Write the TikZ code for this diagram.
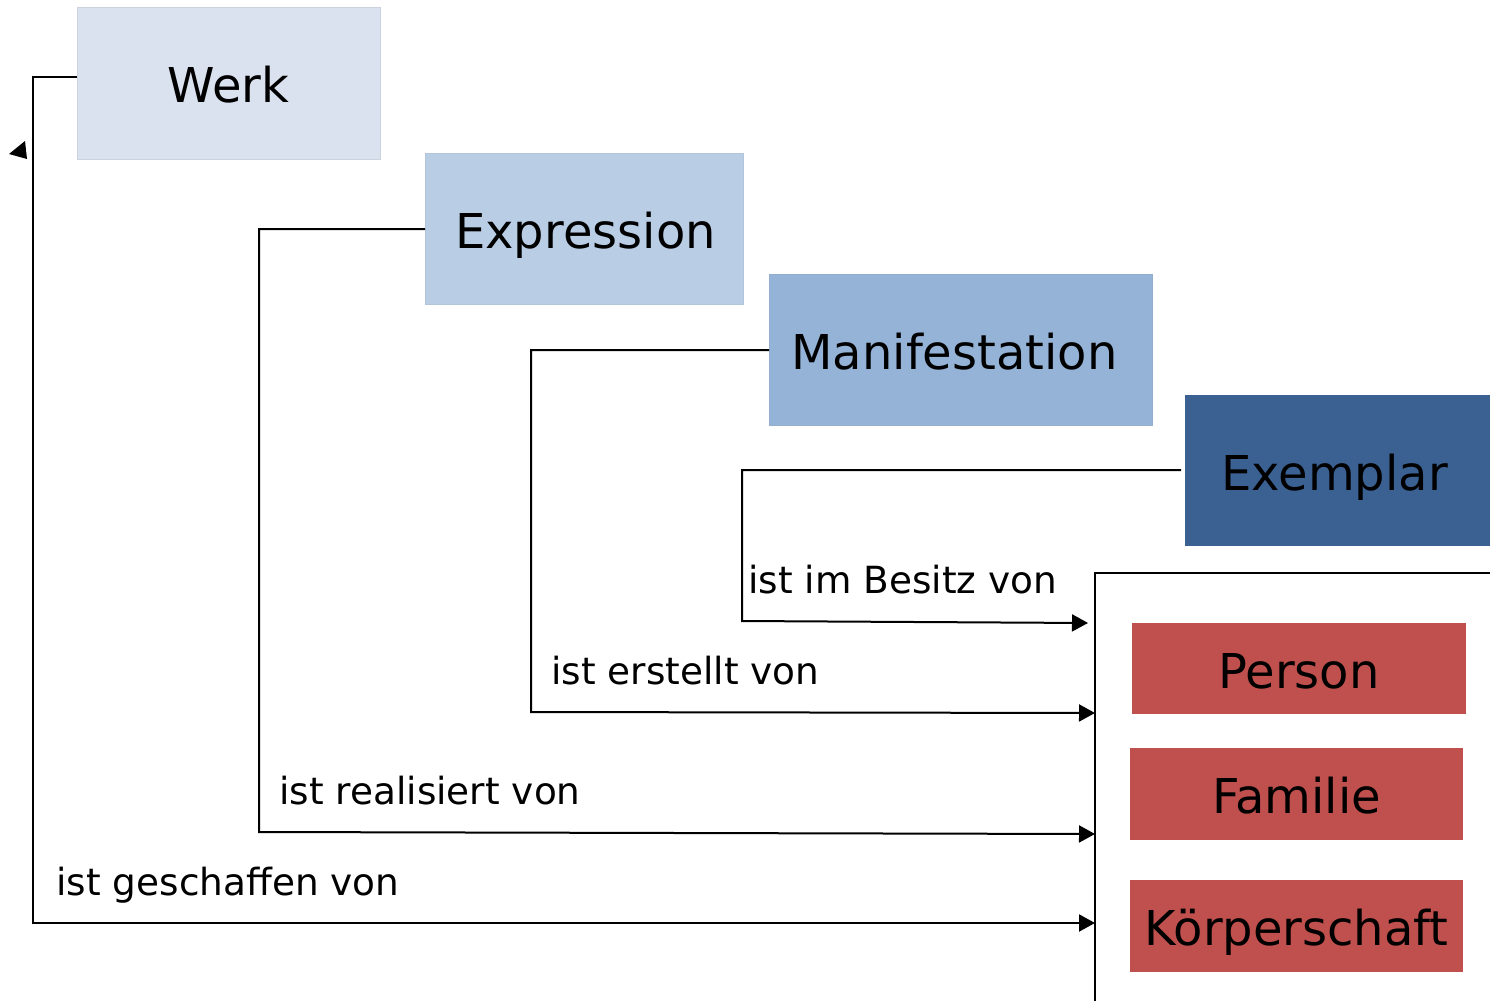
\documentclass[tikz,border=0pt]{standalone}
\usepackage{fontspec}
\setmainfont{DejaVu Sans}
\usetikzlibrary{arrows.meta}
\definecolor{cWerk}{HTML}{DBE2EF}
\definecolor{cExpr}{HTML}{B9CDE5}
\definecolor{cMani}{HTML}{95B3D7}
\definecolor{cExem}{HTML}{3B6193}
\definecolor{cRed}{HTML}{C0504D}
\begin{document}
\begin{tikzpicture}[x=0.5pt,y=-0.5pt,
  entity/.style={rectangle, inner sep=0pt, font=\fontsize{24}{28}\selectfont, text=black, text height=25.7pt, text depth=6pt},
  lbl/.style={anchor=base west, inner sep=0pt, font=\fontsize{18.7}{22}\selectfont},
  conn/.style={line width=1pt, black},
  arr/.style={conn, -{Triangle[length=8pt,width=8.5pt]}}]
\useasboundingbox (0,0) rectangle (1490,1001);
\fill[white] (0,0) rectangle (1490,1001);
% boxes
\node[entity, fill=cWerk, draw=cWerk!85!gray, line width=0.4pt, minimum width=151.5pt, minimum height=76pt] (werk) at (228.5,83) {Werk};
\node[entity, fill=cExpr, draw=cExpr!90!gray, line width=0.4pt, minimum width=159pt, minimum height=75.5pt] (expr) at (584,228.5) {\hspace{1.5pt}Expression};
\node[entity, fill=cMani, draw=cMani!90!gray, line width=0.4pt, minimum width=191.5pt, minimum height=75.5pt] (mani) at (960.5,349.5) {\hspace{-6pt}Manifestation};
\node[entity, fill=cExem, minimum width=152.5pt, minimum height=75.5pt] (exem) at (1337.5,470.5) {\hspace{-3pt}Exemplar};
\node[entity, fill=cRed, minimum width=167pt, minimum height=45.5pt] (person) at (1299,668.5) {Person};
\node[entity, fill=cRed, minimum width=166.5pt, minimum height=46pt] (familie) at (1296.5,794) {Familie};
\node[entity, fill=cRed, minimum width=166.5pt, minimum height=46pt] (koerp) at (1296.5,926) {Körperschaft};
% bracket
\coordinate (brA) at (1490,573);
\coordinate (brB) at (1095,573);
\coordinate (brC) at (1095,1001);
\draw[conn] (brA) -- (brB) -- (brC);
% connector coordinates
\coordinate (w0) at (77,77);
\coordinate (w1) at (33,77);
\coordinate (w2) at (33,923);
\coordinate (wT) at (1095,923);
\coordinate (e0) at (425,229);
\coordinate (e1) at (259,229);
\coordinate (e2) at (259,832);
\coordinate (eT) at (1095,834);
\coordinate (m0) at (769,350);
\coordinate (m1) at (531,350);
\coordinate (m2) at (531,712);
\coordinate (mT) at (1095,713);
\coordinate (x0) at (1181,470);
\coordinate (x1) at (742,470);
\coordinate (x2) at (742,621);
\coordinate (xT) at (1088,623);
\draw[arr] (w0) -- (w1) -- (w2) -- (wT);
\draw[arr] (e0) -- (e1) -- (e2) -- (eT);
\draw[arr] (m0) -- (m1) -- (m2) -- (mT);
\draw[arr] (x0) -- (x1) -- (x2) -- (xT);
% stray arrowhead
\fill[black] (9,154) -- (25,141) -- (27,159) -- cycle;
% labels
\node[lbl] (l1) at (748,593) {ist im Besitz von};
\node[lbl] (l2) at (551,684) {ist erstellt von};
\node[lbl] (l3) at (279,804) {ist realisiert von};
\node[lbl] (l4) at (56,895) {ist geschaffen von};
\end{tikzpicture}
\end{document}
